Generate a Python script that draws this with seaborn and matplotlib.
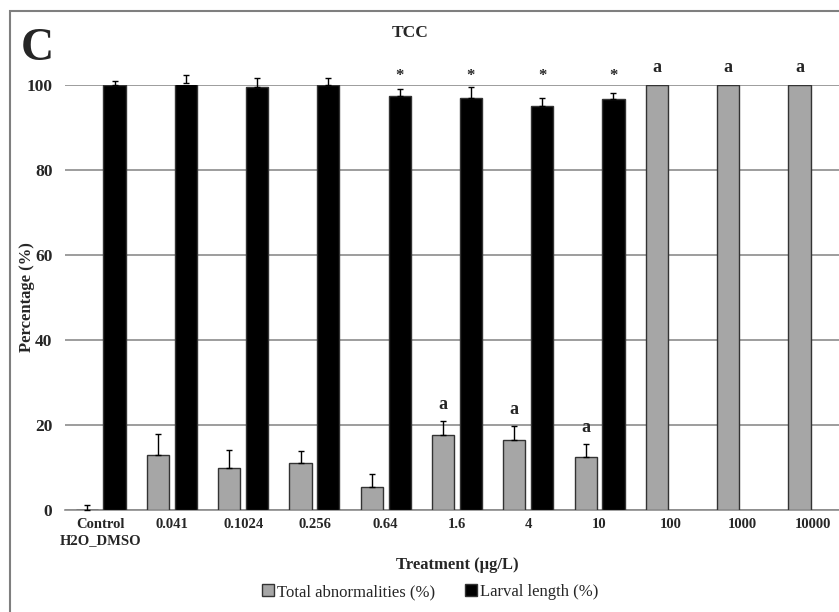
import numpy as np
import pandas as pd
import matplotlib
matplotlib.use("Agg")
import matplotlib.pyplot as plt
from matplotlib.patches import Rectangle
import seaborn as sns

# values
categories = ["Control\nH2O_DMSO", "0.041", "0.1024", "0.256", "0.64", "1.6",
              "4", "10", "100", "1000", "10000"]
series = ["Total abnormalities (%)", "Larval length (%)"]
abnorm = [0.0, 12.9, 9.9, 11.1, 5.3, 17.6, 16.4, 12.5, 100, 100, 100]
abnorm_err = [1.2, 5.0, 4.2, 2.8, 3.2, 3.3, 3.3, 3.0, 0, 0, 0]
length = [100.0, 100.4, 99.5, 100.0, 97.3, 97.0, 95.0, 96.7, np.nan, np.nan, np.nan]
length_err = [1.0, 1.9, 2.1, 1.6, 1.8, 2.5, 2.0, 1.5, np.nan, np.nan, np.nan]
abnorm_sig = ["", "", "", "", "", "a", "a", "a", "a", "a", "a"]
length_sig = ["", "", "", "", "*", "*", "*", "*", "", "", ""]
yticks = [0, 20, 40, 60, 80, 100]

df = pd.DataFrame({
    "Treatment": categories * 2,
    "series": [series[0]] * len(categories) + [series[1]] * len(categories),
    "value": abnorm + length,
    "err": abnorm_err + length_err,
    "sig": abnorm_sig + length_sig,
})

sns.set_style("white")
plt.rcParams["font.family"] = ["Liberation Serif", "DejaVu Serif"]

W, H = 839, 612
fig = plt.figure(figsize=(W / 100, H / 100), dpi=100)
ax = fig.add_axes([65 / W, 1 - 510 / H, 784 / W, 425 / H])

sns.barplot(data=df, x="Treatment", y="value", hue="series", hue_order=series,
            order=categories, palette=["#a6a6a6", "#000000"], width=0.78, gap=0.2,
            edgecolor="#333333", linewidth=1.0, errorbar=None, ax=ax, zorder=3)

# one-sided error bars and significance marks, placed at each drawn bar
for cont, name in zip(ax.containers, series):
    sub = df[df["series"] == name].reset_index(drop=True)
    for bar in cont:
        xc = bar.get_x() + bar.get_width() / 2
        i = int(round(xc))
        v, e, s = sub.loc[i, "value"], sub.loc[i, "err"], sub.loc[i, "sig"]
        if np.isnan(v):
            continue
        if e > 0:
            eb = ax.errorbar(xc, v, yerr=[[0], [e]], fmt="none", ecolor="black",
                             elinewidth=1.0, capsize=2.5, capthick=1.0, zorder=4)
            for art in eb.lines[1] + eb.lines[2]:
                art.set_clip_on(False)
        if s == "a":
            ax.text(xc, v + e + 2.0, s, ha="center", va="bottom", fontsize=13,
                    fontweight="bold", clip_on=False)
        elif s == "*":
            ax.text(xc, 100.2, s, ha="center", va="bottom", fontsize=12,
                    fontweight="bold", clip_on=False)

ax.set_ylim(0, 100)
ax.set_xlim(-0.5, len(categories) - 0.5)
ax.set_yticks(yticks)
ax.yaxis.grid(True, color="#8c8c8c", linewidth=1.2, zorder=0)
ax.set_axisbelow(True)
for side in ["left", "right", "top"]:
    ax.spines[side].set_visible(False)
ax.spines["bottom"].set_color("#8c8c8c")
ax.spines["bottom"].set_linewidth(1.2)
ax.tick_params(axis="y", length=0, labelsize=12.5, pad=9)
ax.tick_params(axis="x", length=0, labelsize=10.5, pad=6)
for lab in ax.get_xticklabels() + ax.get_yticklabels():
    lab.set_fontweight("bold")
    lab.set_linespacing(1.3)

ax.set_xlabel("Treatment (µg/L)", fontsize=12, fontweight="bold", labelpad=7)
ax.set_ylabel("Percentage (%)", fontsize=12, fontweight="bold", labelpad=0)
ax.yaxis.set_label_coords(-30 / 784, 0.5)

fig.text(410 / W, 1 - 33 / H, "TCC", ha="center", va="center", fontsize=12.5,
         fontweight="bold")
fig.text(21 / W, 1 - 49 / H, "C", ha="left", va="center", fontsize=33,
         fontweight="bold")

sns.move_legend(ax, "center", bbox_to_anchor=(0.466, -0.193), ncol=2,
                frameon=False, title=None, fontsize=12, handlelength=0.7,
                handleheight=0.7, handletextpad=0.2, columnspacing=1.8)

fig.add_artist(Rectangle((10 / W, -0.1), 1.2, 1.1 - 11 / H, fill=False,
                         edgecolor="#7f7f7f", linewidth=1.5,
                         transform=fig.transFigure))

fig.savefig("out.png", dpi=100)
plt.close()
